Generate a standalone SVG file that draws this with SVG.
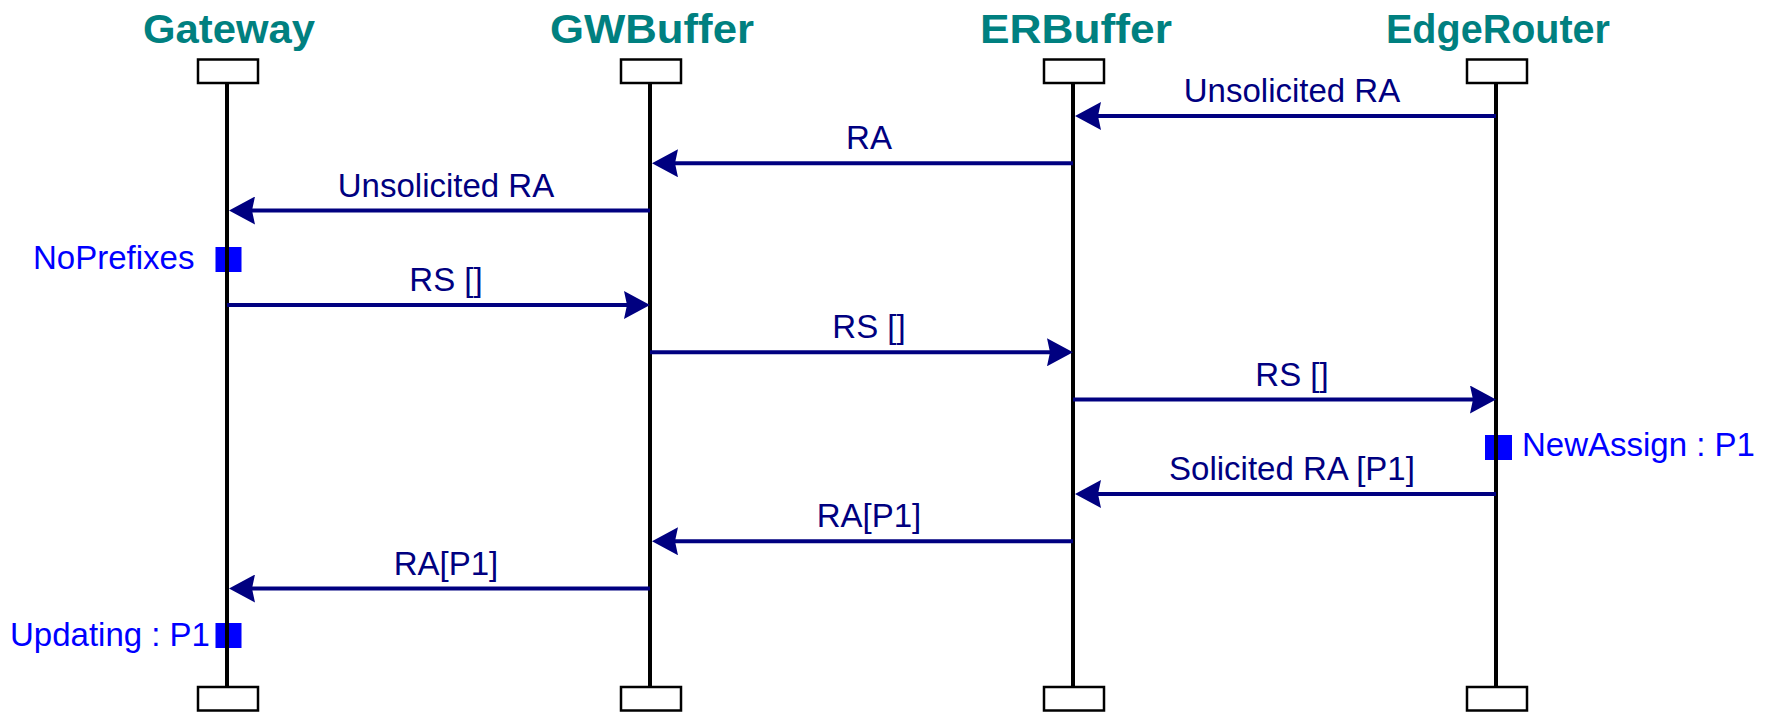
<svg xmlns="http://www.w3.org/2000/svg" width="1765" height="712" viewBox="0 0 1765 712">
  <style>
    .title { font-family: "Liberation Sans", Arial, sans-serif; font-weight: bold; font-size: 41px; fill: #008080; text-anchor: middle; }
    .head { fill: #ffffff; stroke: #000000; stroke-width: 2.5; }
    .life { stroke: #000000; stroke-width: 4; }
    .msg { stroke: #000080; stroke-width: 4; fill: none; marker-end: url(#ah); }
    .mlabel { font-family: "Liberation Sans", Arial, sans-serif; font-size: 33px; fill: #000080; text-anchor: middle; }
    .state { fill: #0000ff; }
    .slabel { font-family: "Liberation Sans", Arial, sans-serif; font-size: 33px; fill: #0000ff; }
  </style>
  <defs>
    <marker id="ah" markerUnits="userSpaceOnUse" markerWidth="26" markerHeight="28" viewBox="0 0 26 28" refX="4" refY="14" orient="auto">
      <path d="M0,0 L26,14 L0,28 L3,14 z" fill="#000080"/>
    </marker>
  </defs>
  <rect width="1765" height="712" fill="#ffffff"/>

  <!-- lifelines -->
  <g id="gateway">
    <text class="title" x="229" y="43" textLength="172" lengthAdjust="spacingAndGlyphs">Gateway</text>
    <line class="life" x1="227" y1="83" x2="227" y2="687"/>
    <rect class="head" x="198" y="59.5" width="60" height="23.5"/>
    <rect class="head" x="198" y="687" width="60" height="23.5"/>
  </g>
  <g id="gwbuffer">
    <text class="title" x="652" y="43" textLength="204" lengthAdjust="spacingAndGlyphs">GWBuffer</text>
    <line class="life" x1="650" y1="83" x2="650" y2="687"/>
    <rect class="head" x="621" y="59.5" width="60" height="23.5"/>
    <rect class="head" x="621" y="687" width="60" height="23.5"/>
  </g>
  <g id="erbuffer">
    <text class="title" x="1076" y="43" textLength="192" lengthAdjust="spacingAndGlyphs">ERBuffer</text>
    <line class="life" x1="1073" y1="83" x2="1073" y2="687"/>
    <rect class="head" x="1044" y="59.5" width="60" height="23.5"/>
    <rect class="head" x="1044" y="687" width="60" height="23.5"/>
  </g>
  <g id="edgerouter">
    <text class="title" x="1498" y="43" textLength="224" lengthAdjust="spacingAndGlyphs">EdgeRouter</text>
    <line class="life" x1="1496" y1="83" x2="1496" y2="687"/>
    <rect class="head" x="1467" y="59.5" width="60" height="23.5"/>
    <rect class="head" x="1467" y="687" width="60" height="23.5"/>
  </g>

  <!-- states -->
  <g id="state-noprefixes">
    <rect class="state" x="215.5" y="247" width="26" height="25"/>
    <line class="life" x1="227" y1="247" x2="227" y2="272"/>
    <text class="slabel" x="33" y="269">NoPrefixes</text>
  </g>
  <g id="state-newassign">
    <rect class="state" x="1485" y="435" width="27" height="25"/>
    <line class="life" x1="1496" y1="435" x2="1496" y2="460"/>
    <text class="slabel" x="1522" y="456">NewAssign : P1</text>
  </g>
  <g id="state-updating">
    <rect class="state" x="215.5" y="623" width="26" height="25"/>
    <line class="life" x1="227" y1="623" x2="227" y2="648"/>
    <text class="slabel" x="10" y="646">Updating : P1</text>
  </g>

  <!-- messages -->
  <g id="connectors">
    <path class="msg" d="M1496,116 H1097"/>
    <path class="msg" d="M1073,163.25 H674"/>
    <path class="msg" d="M650,210.5 H251"/>
    <path class="msg" d="M227,305 H628"/>
    <path class="msg" d="M650,352.25 H1051"/>
    <path class="msg" d="M1073,399.5 H1474"/>
    <path class="msg" d="M1496,494 H1097"/>
    <path class="msg" d="M1073,541.25 H674"/>
    <path class="msg" d="M650,588.5 H251"/>
  </g>
  <g id="labels">
    <text class="mlabel" x="1292" y="102">Unsolicited RA</text>
    <text class="mlabel" x="869" y="149">RA</text>
    <text class="mlabel" x="446" y="196.5">Unsolicited RA</text>
    <text class="mlabel" x="446" y="291">RS []</text>
    <text class="mlabel" x="869" y="338">RS []</text>
    <text class="mlabel" x="1292" y="385.5">RS []</text>
    <text class="mlabel" x="1292" y="480">Solicited RA [P1]</text>
    <text class="mlabel" x="869" y="527">RA[P1]</text>
    <text class="mlabel" x="446" y="574.5">RA[P1]</text>
  </g>
</svg>
